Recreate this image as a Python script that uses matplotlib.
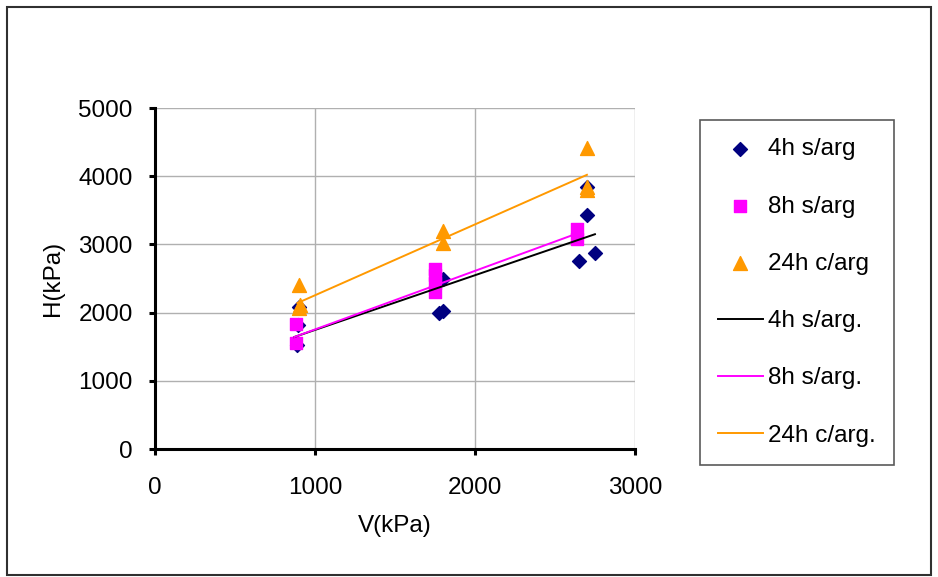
import numpy as np
import matplotlib.pyplot as plt
from matplotlib.patches import Rectangle

plt.rcParams['font.family'] = ['Liberation Sans', 'DejaVu Sans']

# V (kPa) / H (kPa)
v_4h = [890, 895, 900, 1775, 1800, 1800, 2650, 2700, 2700, 2750]
h_4h = [1530, 1820, 2080, 1995, 2030, 2490, 2760, 3430, 3840, 2870]

v_8h = [880, 880, 1750, 1750, 1750, 1750, 2640, 2640]
h_8h = [1560, 1840, 2300, 2430, 2550, 2640, 3080, 3220]

v_24h = [900, 900, 905, 1800, 1800, 2700, 2700, 2700]
h_24h = [2400, 2070, 2110, 3190, 3020, 4410, 3800, 3840]

# trendlines (slope, intercept) and x extents
fit_4h = (0.802, 944)
fit_8h = (0.859, 894)
fit_24h = (1.039, 1215)
span_4h = (870, 2750)
span_8h = (870, 2650)
span_24h = (890, 2700)

fig = plt.figure(figsize=(9.38, 5.77), dpi=100)
fig.patches.append(Rectangle((0.0075, 0.0035), 0.985, 0.984, transform=fig.transFigure,
                             fill=False, edgecolor='#303030', linewidth=1.5))

ax = fig.add_axes([0.1652, 0.2218, 0.5117, 0.591])

ax.scatter(v_4h, h_4h, marker='D', s=50, color='#000080', label='4h s/arg', zorder=3)
ax.scatter(v_8h, h_8h, marker='s', s=65, color='#FF00FF', label='8h s/arg', zorder=3)
ax.scatter(v_24h, h_24h, marker='^', s=100, color='#FF9900', label='24h c/arg', zorder=3)

for fit, span, c, lab in [(fit_4h, span_4h, 'black', '4h s/arg.'),
                          (fit_8h, span_8h, '#FF00FF', '8h s/arg.'),
                          (fit_24h, span_24h, '#FF9900', '24h c/arg.')]:
    xs = np.array(span)
    ax.plot(xs, fit[0] * xs + fit[1], color=c, linewidth=1.4, label=lab, zorder=4)

ax.set_xlim(0, 3000)
ax.set_ylim(0, 5000)
ax.set_xticks([0, 1000, 2000, 3000])
ax.set_yticks([0, 1000, 2000, 3000, 4000, 5000])
ax.grid(True, color='#b0b0b0', linewidth=1)
ax.set_axisbelow(True)
for s in ['top', 'right']:
    ax.spines[s].set_visible(False)
ax.spines['left'].set_linewidth(2.2)
ax.spines['bottom'].set_linewidth(2.2)
ax.tick_params(direction='out', length=4, width=2.2, labelsize=17.5)
ax.tick_params(axis='y', pad=12)
ax.tick_params(axis='x', pad=16)
ax.set_xlabel('V(kPa)', fontsize=17.5, labelpad=12)
ax.set_ylabel('H(kPa)', fontsize=17.5, labelpad=10)

leg = fig.legend(loc='upper left', bbox_to_anchor=(0.746, 0.792), fontsize=17.5,
                 labelspacing=1.45, frameon=True, fancybox=False, edgecolor='#303030',
                 borderpad=0.75, handlelength=1.85, handletextpad=0.2, borderaxespad=0)
leg.get_frame().set_linewidth(1.2)

fig.savefig('out.png', dpi=100)
